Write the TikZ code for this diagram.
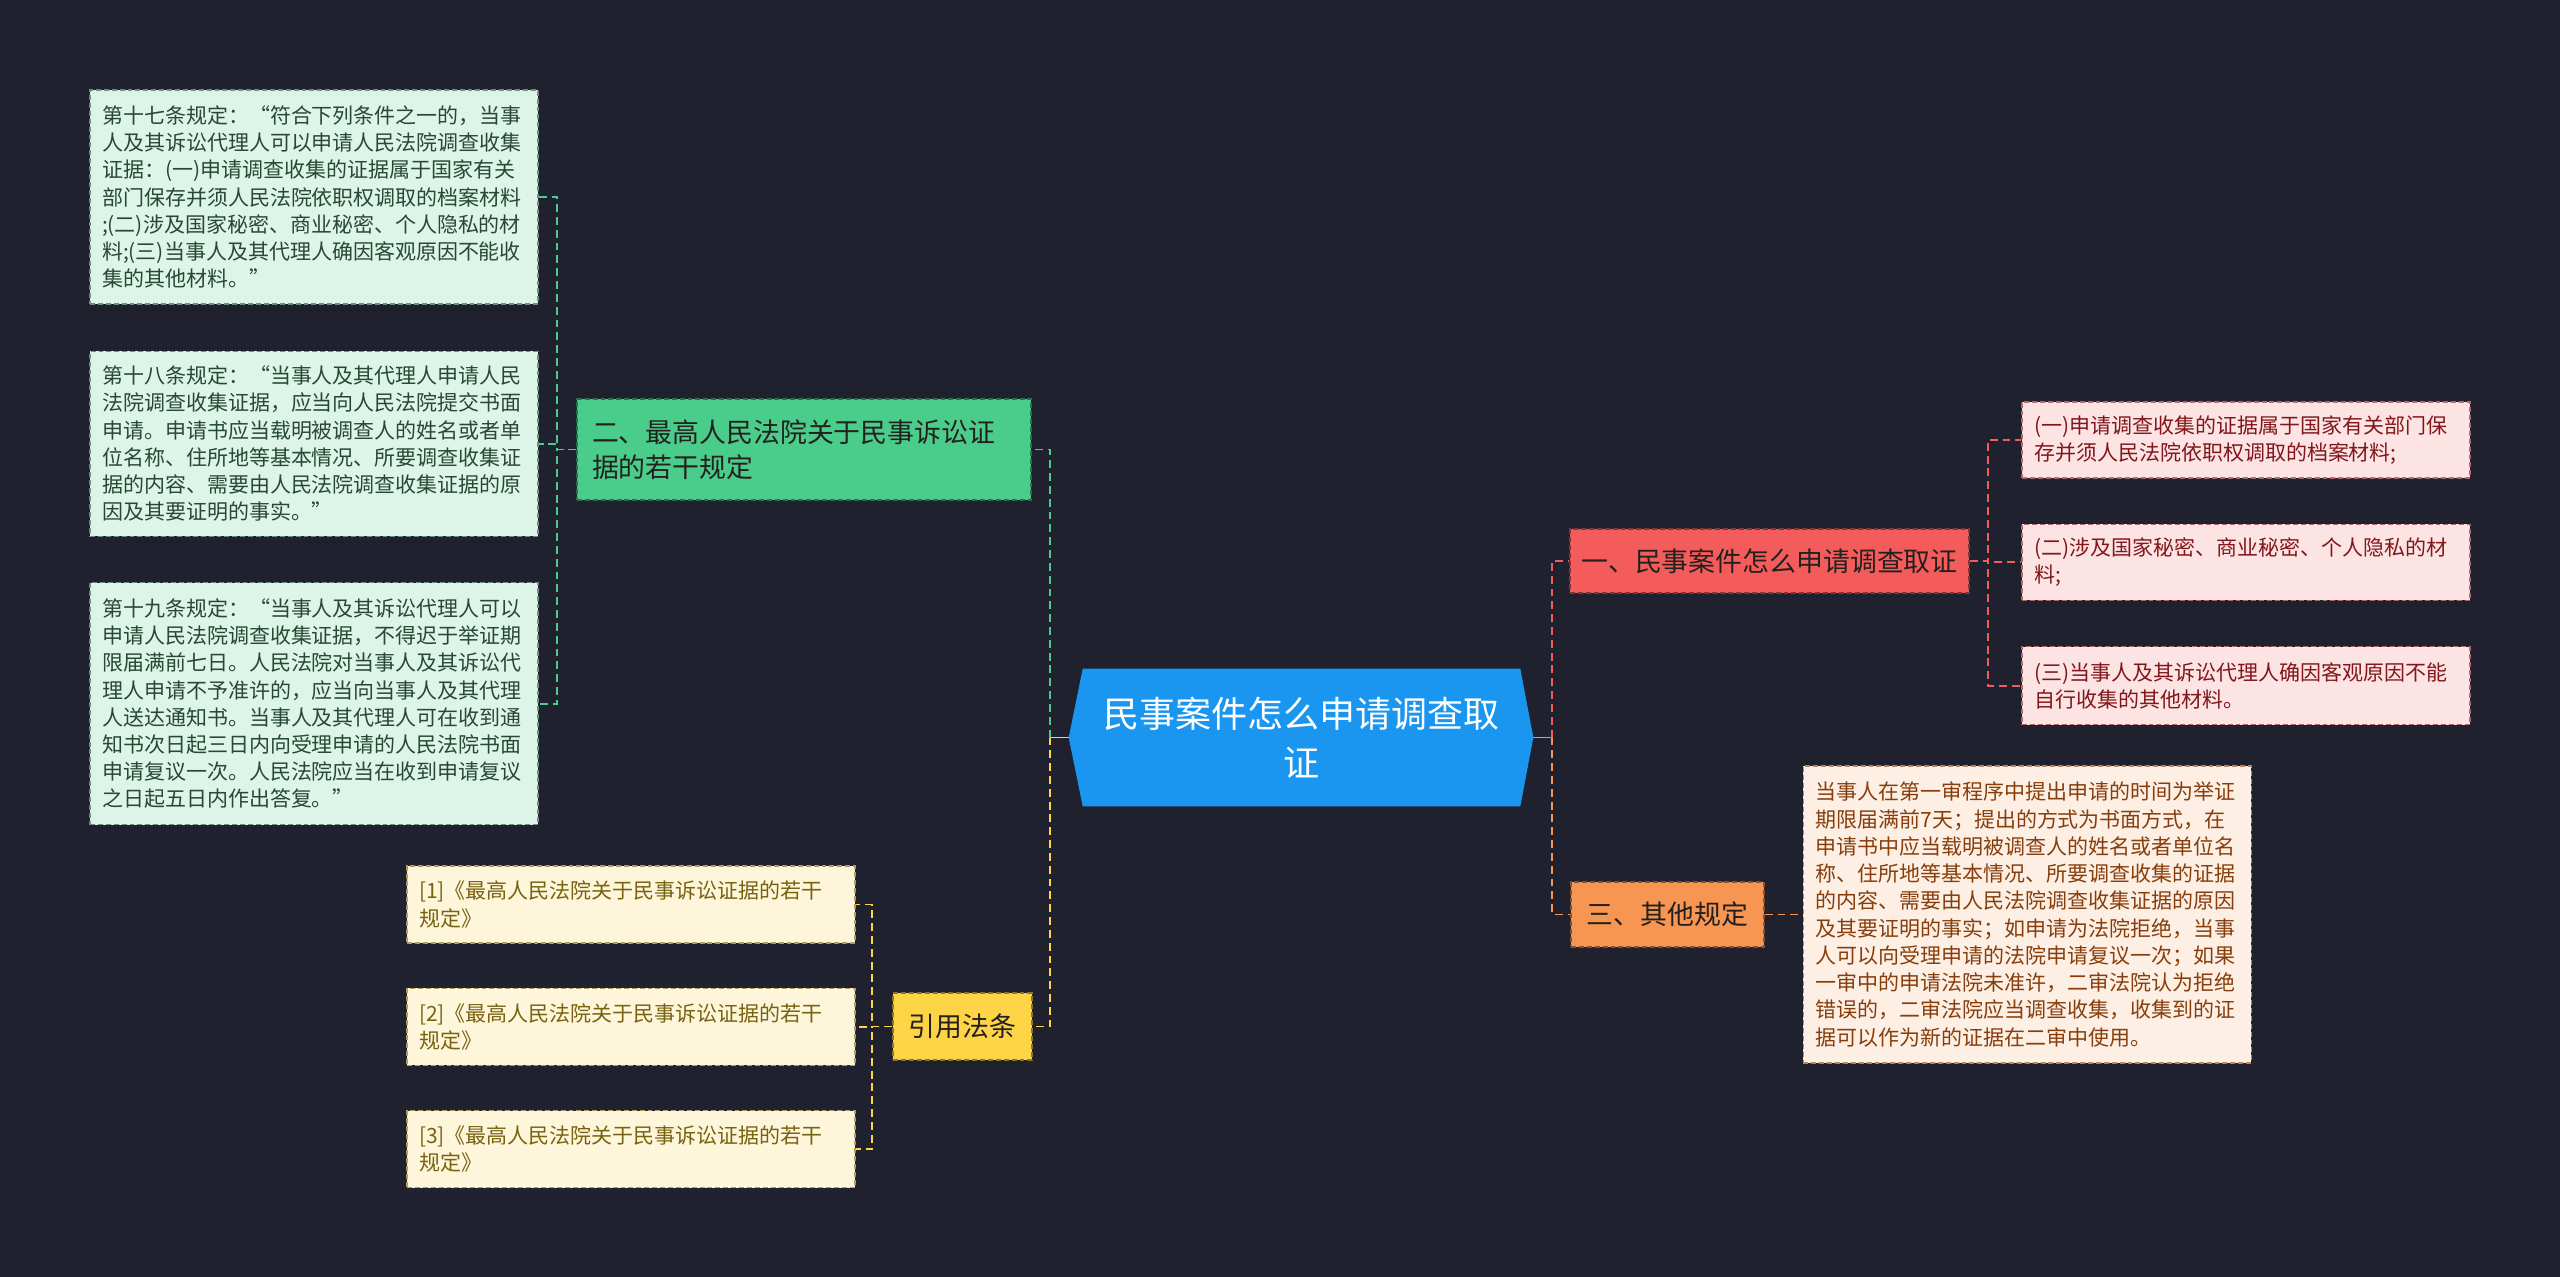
\documentclass[tikz,border=0pt]{standalone}
\usepackage{fontspec}
\newfontfamily\cjk{Noto Sans CJK SC}
\definecolor{bgnavy}{RGB}{31,34,46}
\definecolor{rootblue}{RGB}{26,150,240}
\definecolor{mint}{RGB}{74,204,139}
\definecolor{mintpale}{RGB}{221,245,232}
\definecolor{mintdark}{RGB}{38,72,52}
\definecolor{coral}{RGB}{244,92,92}
\definecolor{coralpale}{RGB}{253,228,228}
\definecolor{coraldark}{RGB}{130,22,26}
\definecolor{tangerine}{RGB}{247,150,82}
\definecolor{tangerinepale}{RGB}{254,239,228}
\definecolor{tangerinedark}{RGB}{135,62,12}
\definecolor{sun}{RGB}{253,212,70}
\definecolor{sunpale}{RGB}{254,246,218}
\definecolor{sundark}{RGB}{120,98,16}
\definecolor{inkdark}{RGB}{36,32,30}
\usetikzlibrary{positioning, backgrounds}
\newcommand{\leaffont}{\cjk\fontsize{11.95}{15.5}\selectfont}
\newcommand{\branchfont}{\cjk\fontsize{15.3}{19.9}\selectfont}
\newcommand{\rootfont}{\cjk\fontsize{20.5}{27.9}\selectfont}

\begin{document}
\begin{tikzpicture}[x=0.02cm, y=-0.02cm,
    leafbox/.style={rectangle, line width=0.8pt, dash pattern=on 2.8pt off 1.7pt,
                    text width=8.48cm, inner xsep=0.24cm, inner ysep=0pt, align=left, font=\leaffont},
    branchbox/.style={rectangle, line width=0.8pt, dash pattern=on 2.8pt off 1.7pt,
                      inner sep=0pt, align=center, font=\branchfont, text=inkdark},
    mintleaf/.style={leafbox, draw=mintdark!60!mintpale, fill=mintpale, text=mintdark},
    coralleaf/.style={leafbox, draw=coraldark!60!coralpale, fill=coralpale, text=coraldark},
    tangleaf/.style={leafbox, draw=tangerinedark!60!tangerinepale, fill=tangerinepale, text=tangerinedark},
    sunleaf/.style={leafbox, draw=sundark!60!sunpale, fill=sunpale, text=sundark},
    link/.style={line width=1.1pt, dash pattern=on 4.5pt off 2.8pt},
    stem/.style={line width=1.1pt}
  ]

  \useasboundingbox (0,0) rectangle (2560,1277);

  % Central topic
  \node[font=\rootfont, text=white, align=center, minimum width=8.74cm, minimum height=2.74cm,
        inner sep=0pt] (root) at (1301.5,737.5) {民事案件怎么申请调查取\\证};
  \coordinate (tipw) at ([xshift=-0.28cm]root.west);
  \coordinate (tipe) at ([xshift=0.26cm]root.east);

  % Left: rules of the Supreme Court
  \node[branchbox, draw=mint!55!black, fill=mint, text width=8.48cm, inner xsep=0.3cm, align=left,
        minimum height=2.02cm] (rules) at (804,449.5) {二、最高人民法院关于民事诉讼证\\据的若干规定};
  \node[mintleaf, minimum height=4.28cm] (art17) at (314,197)
    {第十七条规定：“符合下列条件之一的，当事\\人及其诉讼代理人可以申请人民法院调查收集\\证据：(一)申请调查收集的证据属于国家有关\\部门保存并须人民法院依职权调取的档案材料\\;(二)涉及国家秘密、商业秘密、个人隐私的材\\料;(三)当事人及其代理人确因客观原因不能收\\集的其他材料。”};
  \node[mintleaf, minimum height=3.7cm, below=0.92cm of art17] (art18)
    {第十八条规定：“当事人及其代理人申请人民\\法院调查收集证据，应当向人民法院提交书面\\申请。申请书应当载明被调查人的姓名或者单\\位名称、住所地等基本情况、所要调查收集证\\据的内容、需要由人民法院调查收集证据的原\\因及其要证明的事实。”};
  \node[mintleaf, minimum height=4.84cm, below=0.9cm of art18] (art19)
    {第十九条规定：“当事人及其诉讼代理人可以\\申请人民法院调查收集证据，不得迟于举证期\\限届满前七日。人民法院对当事人及其诉讼代\\理人申请不予准许的，应当向当事人及其代理\\人送达通知书。当事人及其代理人可在收到通\\知书次日起三日内向受理申请的人民法院书面\\申请复议一次。人民法院应当在收到申请复议\\之日起五日内作出答复。”};

  % Left: cited laws
  \node[branchbox, draw=sun!55!black, fill=sun, minimum width=2.78cm, minimum height=1.34cm]
    (cite) at (962.5,1026.5) {引用法条};
  \node[sunleaf, minimum height=1.54cm] (cite1) at (631,904.5) {[1]《最高人民法院关于民事诉讼证据的若干\\规定》};
  \node[sunleaf, minimum height=1.54cm, below=0.88cm of cite1] (cite2) {[2]《最高人民法院关于民事诉讼证据的若干\\规定》};
  \node[sunleaf, minimum height=1.54cm, below=0.88cm of cite2] (cite3) {[3]《最高人民法院关于民事诉讼证据的若干\\规定》};

  % Right: how to apply
  \node[branchbox, draw=coral!55!black, fill=coral, minimum width=7.98cm, minimum height=1.28cm]
    (apply) at (1769.5,561) {一、民事案件怎么申请调查取证};
  \node[coralleaf, minimum height=1.52cm] (item1) at (2246,440) {(一)申请调查收集的证据属于国家有关部门保\\存并须人民法院依职权调取的档案材料;};
  \node[coralleaf, minimum height=1.52cm, below=0.9cm of item1] (item2) {(二)涉及国家秘密、商业秘密、个人隐私的材\\料;};
  \node[coralleaf, minimum height=1.56cm, below=0.9cm of item2] (item3) {(三)当事人及其诉讼代理人确因客观原因不能\\自行收集的其他材料。};

  % Right: other rules
  \node[branchbox, draw=tangerine!55!black, fill=tangerine, minimum width=3.86cm, minimum height=1.3cm]
    (other) at (1667.5,914.5) {三、其他规定};
  \node[tangleaf, minimum height=5.94cm, right=0.76cm of other] (otherdesc)
    {当事人在第一审程序中提出申请的时间为举证\\期限届满前7天；提出的方式为书面方式，在\\申请书中应当载明被调查人的姓名或者单位名\\称、住所地等基本情况、所要调查收集的证据\\的内容、需要由人民法院调查收集证据的原因\\及其要证明的事实；如申请为法院拒绝，当事\\人可以向受理申请的法院申请复议一次；如果\\一审中的申请法院未准许，二审法院认为拒绝\\错误的，二审法院应当调查收集，收集到的证\\据可以作为新的证据在二审中使用。};

  % Connectors from the central topic
  \draw[stem, sun] (tipw) -- ++(-19,0) coordinate (lj);
  \draw[link, mint] (lj) |- (rules.east);
  \draw[link, sun] (lj) |- (cite.east);
  \draw[stem, tangerine] (tipe) -- ++(19,0) coordinate (rj);
  \draw[link, coral] (rj) |- (apply.west);
  \draw[link, tangerine] (rj) |- (other.west);

  % Connectors to the leaves
  \draw[link, mint] (rules.west) -- ++(-19,0) |- (art17.east);
  \draw[link, mint] (rules.west) -- ++(-19,0) |- (art18.east);
  \draw[link, mint] (rules.west) -- ++(-19,0) |- (art19.east);
  \draw[link, sun] (cite.west) -- ++(-20,0) |- (cite1.east);
  \draw[link, sun] (cite.west) -- ++(-20,0) |- (cite2.east);
  \draw[link, sun] (cite.west) -- ++(-20,0) |- (cite3.east);
  \draw[link, coral] (apply.east) -- ++(18,0) |- (item1.west);
  \draw[link, coral] (apply.east) -- ++(18,0) |- (item2.west);
  \draw[link, coral] (apply.east) -- ++(18,0) |- (item3.west);
  \draw[link, tangerine] (other.east) -- (otherdesc.west);

  % Background and central hexagon
  \begin{scope}[on background layer]
    \fill[bgnavy] (0,0) rectangle (2560,1277);
    \fill[rootblue] (root.north west) -- (root.north east) -- (tipe) -- (root.south east)
      -- (root.south west) -- (tipw) -- cycle;
  \end{scope}

\end{tikzpicture}
\end{document}
